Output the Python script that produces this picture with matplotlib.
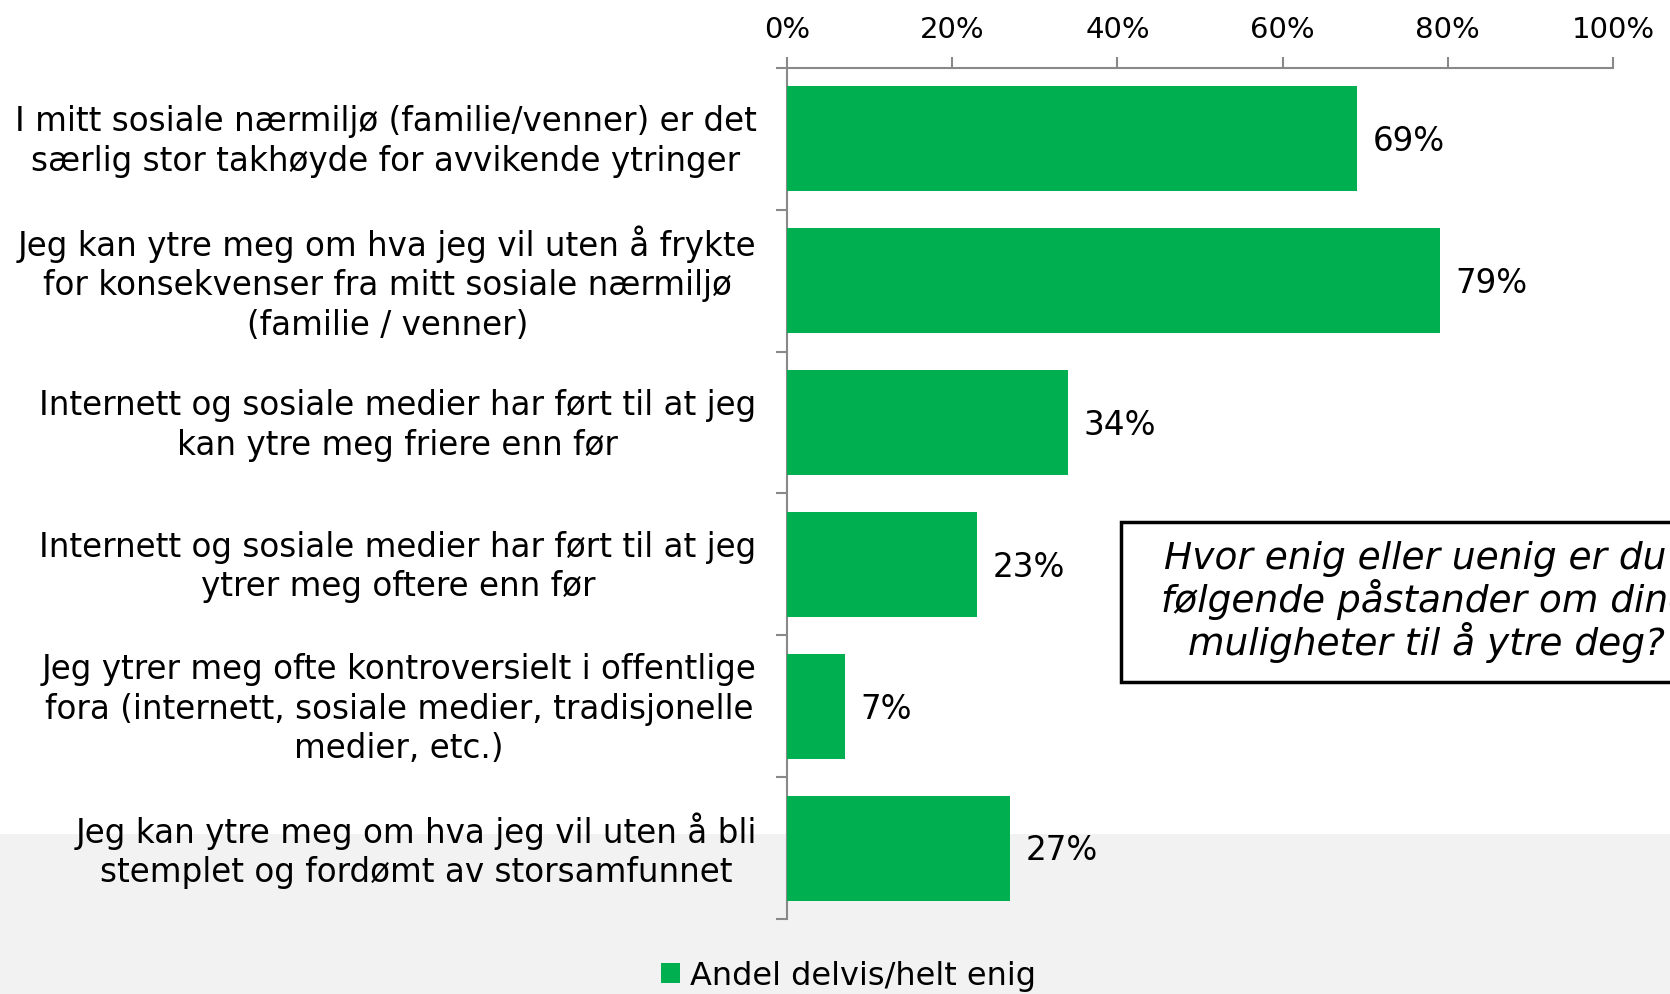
import matplotlib
matplotlib.use("Agg")
import matplotlib.pyplot as plt
from matplotlib.patches import Rectangle

# Data
labels = [
    "I mitt sosiale nærmiljø (familie/venner) er det\nsærlig stor takhøyde for avvikende ytringer",
    "Jeg kan ytre meg om hva jeg vil uten å frykte\nfor konsekvenser fra mitt sosiale nærmiljø\n(familie / venner)",
    "Internett og sosiale medier har ført til at jeg\nkan ytre meg friere enn før",
    "Internett og sosiale medier har ført til at jeg\nytrer meg oftere enn før",
    "Jeg ytrer meg ofte kontroversielt i offentlige\nfora (internett, sosiale medier, tradisjonelle\nmedier, etc.)",
    "Jeg kan ytre meg om hva jeg vil uten å bli\nstemplet og fordømt av storsamfunnet",
]
values = [69, 79, 34, 23, 7, 27]
xticks = [0, 20, 40, 60, 80, 100]
series_name = "Andel delvis/helt enig"
question = "Hvor enig eller uenig er du i\nfølgende påstander om dine\nmuligheter til å ytre deg?"

green = "#00B050"
grey = "#898989"
plt.rcParams["font.family"] = "DejaVu Sans"

fig = plt.figure(figsize=(16.7, 9.94), dpi=100)
fig.patch.set_facecolor("white")

# grey band at the bottom
fig.patches.append(Rectangle((0, 0), 1, 0.161, transform=fig.transFigure,
                             facecolor="#F2F2F2", edgecolor="none", zorder=0))

ax = fig.add_axes([0.4713, 0.0755, 0.4946, 0.8561])
ax.set_facecolor("none")
ax.set_zorder(2)

ypos = list(range(len(values)))
bars = ax.barh(ypos, values, height=0.74, color=green, label=series_name, zorder=3)
ax.set_xlim(0, 100)
ax.set_ylim(len(values) - 0.5, -0.5)

for y, v in zip(ypos, values):
    ax.text(v + 1.9, y + 0.02, f"{v}%", va="center", ha="left", fontsize=23.5)

for y, lab in zip(ypos, labels):
    ax.text(-3.7, y + 0.02, lab, va="center", ha="right", multialignment="center",
            fontsize=23.5, linespacing=1.25)

# axes styling
for s in ["right", "bottom"]:
    ax.spines[s].set_visible(False)
for s in ["top", "left"]:
    ax.spines[s].set_color(grey)
    ax.spines[s].set_linewidth(1.5)

ax.xaxis.tick_top()
ax.set_xticks(xticks)
ax.set_xticklabels([f"{t}%" for t in xticks], fontsize=21)
ax.tick_params(axis="x", direction="out", length=8, width=1.5, color=grey, pad=9)

ax.set_yticks([i - 0.5 for i in range(len(values) + 1)])
ax.set_yticklabels([])
ax.tick_params(axis="y", direction="out", length=8, width=1.5, color=grey)

# question box (runs off the right edge, as in the original)
fig.patches.append(Rectangle((0.6713, 0.314), 0.40, 0.161, transform=fig.transFigure,
                             facecolor="white", edgecolor="black", linewidth=2.5,
                             zorder=5, clip_on=False))
fig.text(0.854, 0.3945, question, ha="center", va="center", fontsize=27,
         style="italic", linespacing=1.07, zorder=6)

# legend
fig.legend(handles=[bars], labels=[series_name], loc="center",
           bbox_to_anchor=(0.508, 0.018), frameon=False, fontsize=23,
           handlelength=0.6, handleheight=0.6, handletextpad=0.3)

fig.savefig("out.png", dpi=100)
